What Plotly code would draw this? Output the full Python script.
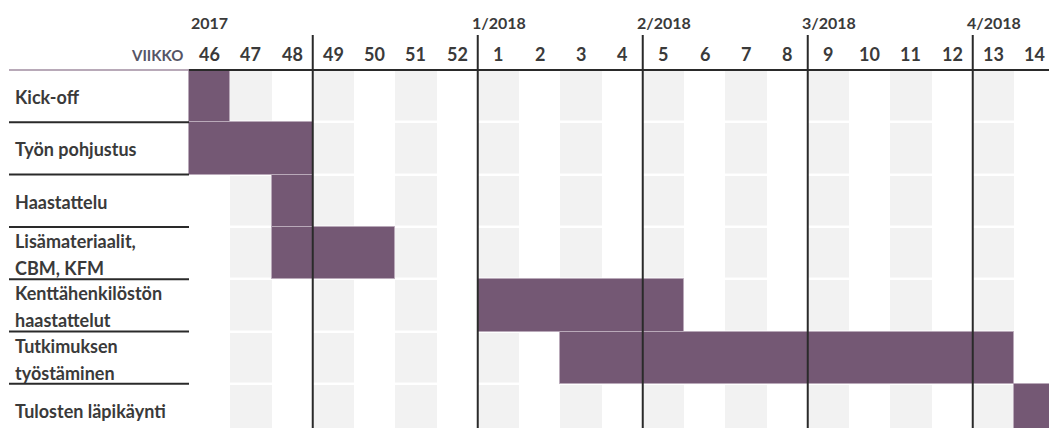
import plotly.graph_objects as go

# ---- data ----
weeks = [46, 47, 48, 49, 50, 51, 52, 1, 2, 3, 4, 5, 6, 7, 8, 9, 10, 11, 12, 13, 14]
task_labels = [
    "Kick-off",
    "Työn pohjustus",
    "Haastattelu",
    "Lisämateriaalit,\nCBM, KFM",
    "Kenttähenkilöstön\nhaastattelut",
    "Tutkimuksen\ntyöstäminen",
    "Tulosten läpikäynti",
]
task_start_week = [46, 46, 48, 48, 1, 3, 14]
task_end_week = [46, 48, 48, 50, 5, 13, 14]
divider_weeks = [49, 1, 5, 9, 13]
period_labels = ["2017", "1/2018", "2/2018", "3/2018", "4/2018"]
period_label_weeks = [46, 1, 5, 9, 13]
header_label = "VIIKKO"

# ---- geometry (px) ----
W, H = 1049, 428
left_px = 189
col_px = 41.25
header_px = 70
row_px = 52.3
ncol = len(weeks)
nrow = len(task_labels)

x_min = -left_px / col_px
x_max = (W - left_px) / col_px
y_top = -header_px / row_px
y_bot = (H - header_px) / row_px

def px_x(p):
    return x_min + p / col_px

def px_y(p):
    return (p - header_px) / row_px

BAR = "#745874"
TXT = "#3a3a3a"
LINE = "#2a2a2a"
FONT = "Lato"

fig = go.Figure()

# grey alternating cells
z = [[1 if (c % 2 == 1) else 0 for c in range(ncol)] for r in range(nrow)]
fig.add_trace(go.Heatmap(
    z=z,
    x=[c + 0.5 for c in range(ncol)],
    y=[r + 0.5 for r in range(nrow)],
    colorscale=[[0, "rgba(255,255,255,0)"], [1, "#f2f2f2"]],
    showscale=False, ygap=2.5, xgap=0, hoverinfo="skip", zmin=0, zmax=1,
))

# task bars
starts = [weeks.index(s) for s in task_start_week]
durs = [weeks.index(e) - weeks.index(s) + 1 for s, e in zip(task_start_week, task_end_week)]
fig.add_trace(go.Bar(
    orientation="h",
    base=starts,
    x=durs,
    y=[r + 0.5 for r in range(nrow)],
    width=1.0,
    marker=dict(color=BAR, line=dict(color="#b9a9b9", width=1)),
    hoverinfo="skip",
))

shapes = []
# month dividers
for wk in divider_weeks:
    xi = weeks.index(wk)
    shapes.append(dict(type="line", xref="x", yref="y", x0=xi, x1=xi,
                       y0=px_y(35), y1=y_bot + 1, line=dict(color=LINE, width=2)))
# header line
shapes.append(dict(type="line", xref="x", yref="y", x0=px_x(9), x1=0, y0=0, y1=0,
                   line=dict(color="#a08ca0", width=1.5)))
shapes.append(dict(type="line", xref="x", yref="y", x0=0, x1=ncol + 1, y0=0, y1=0,
                   line=dict(color=LINE, width=2)))
# row separators in label column
for r in range(1, nrow):
    shapes.append(dict(type="line", xref="x", yref="y", x0=px_x(9), x1=0, y0=r, y1=r,
                       line=dict(color=LINE, width=2)))

annotations = []
# week numbers
for c, wk in enumerate(weeks):
    annotations.append(dict(x=c + 0.5, y=px_y(54), xref="x", yref="y", text=str(wk),
                            showarrow=False, xanchor="center", yanchor="middle",
                            font=dict(family=FONT, size=18, color=TXT, weight="bold")))
annotations.append(dict(x=0, y=px_y(55), xref="x", yref="y", text=header_label,
                        showarrow=False, xanchor="right", yanchor="middle", xshift=-4,
                        font=dict(family=FONT, size=15, color="#555566", weight="bold")))
# period labels
for lab, wk in zip(period_labels, period_label_weeks):
    xi = weeks.index(wk)
    annotations.append(dict(x=xi, y=px_y(22), xref="x", yref="y", text=lab,
                            showarrow=False, xanchor="left", yanchor="middle",
                            xshift=(0 if wk == period_label_weeks[0] else -8),
                            font=dict(family=FONT, size=16, color=TXT, weight="bold")))
# task labels
for r, lab in enumerate(task_labels):
    parts = lab.split("\n")
    if len(parts) == 1:
        offs = [1]
    else:
        offs = [-12, 15]
    for part, o in zip(parts, offs):
        annotations.append(dict(x=px_x(13), y=r + 0.5 + o / row_px, xref="x", yref="y",
                                text=part, showarrow=False, xanchor="left", yanchor="middle",
                                font=dict(family=FONT, size=18, color=TXT, weight="bold")))

fig.update_layout(
    width=W, height=H,
    margin=dict(l=0, r=0, t=0, b=0),
    paper_bgcolor="white", plot_bgcolor="white",
    showlegend=False,
    bargap=0,
    xaxis=dict(range=[x_min, x_max], visible=False, fixedrange=True),
    yaxis=dict(range=[y_bot, y_top], visible=False, fixedrange=True),
    shapes=shapes,
    annotations=annotations,
)

fig.write_html("out.html")
